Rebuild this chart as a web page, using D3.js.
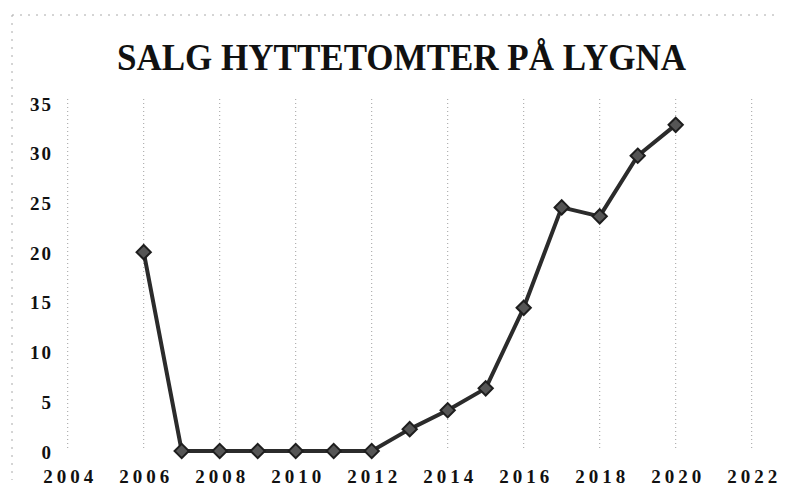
<!DOCTYPE html>
<meta charset="utf-8">
<script src="https://d3js.org/d3.v7.min.js"></script>
<style>
body { margin: 0; background: #fff; }
.title { font: bold 37px "Liberation Serif", serif; fill: #111; }
.axis text { font: bold 19px "Liberation Serif", serif; fill: #111; }
.axis.x text { letter-spacing: 4px; }
.axis.y text { letter-spacing: 2px; }
.axis path, .axis line { stroke: none; }
.grid line { stroke: #888; stroke-width: 1; stroke-dasharray: 1 3; stroke-opacity: .8; }
.line { fill: none; stroke: #2b2b2b; stroke-width: 4; stroke-linejoin: round; }
.marker { fill: #555; stroke: #1e1e1e; stroke-width: 2; }
.frame { stroke: #aaa; stroke-dasharray: 2 6; stroke-width: 1; }
</style>
<body>
<script>

var years = [2006, 2007, 2008, 2009, 2010, 2011, 2012, 2013, 2014, 2015, 2016, 2017, 2018, 2019, 2020]
var sales = [20, 0, 0, 0, 0, 0, 0, 2.2, 4.1, 6.3, 14.4, 24.5, 23.6, 29.7, 32.8]
var xTicks = [2004, 2006, 2008, 2010, 2012, 2014, 2016, 2018, 2020, 2022]
var yTicks = [0, 5, 10, 15, 20, 25, 30, 35]
var titleText = "SALG HYTTETOMTER PÅ LYGNA"

var width = 787, height = 495

var svg = d3.select("body").append("svg")
  .attr("width", width)
  .attr("height", height)

// faint scan border
svg.append("line").attr("class", "frame")
  .attr("x1", 12).attr("x2", 780).attr("y1", 15).attr("y2", 15)
svg.append("line").attr("class", "frame")
  .attr("x1", 12).attr("x2", 12).attr("y1", 15).attr("y2", 480)

var xScale = d3.scaleLinear()
  .domain([2004, 2022])
  .range([67.7, 751.7])

var yScale = d3.scaleLinear()
  .domain([0, 35])
  .range([451, 103])

svg.append("text")
  .attr("class", "title")
  .attr("x", 117)
  .attr("y", 70)
  .attr("textLength", 569)
  .attr("lengthAdjust", "spacingAndGlyphs")
  .text(titleText)

// vertical dotted gridlines
svg.append("g")
  .attr("class", "grid")
  .selectAll("line")
  .data(xTicks)
  .enter().append("line")
  .attr("x1", function(d) { return xScale(d) })
  .attr("x2", function(d) { return xScale(d) })
  .attr("y1", yScale(35) - 4)
  .attr("y2", yScale(0))

var xAxis = d3.axisBottom(xScale)
  .tickValues(xTicks)
  .tickFormat(d3.format("d"))
  .tickSize(0)
  .tickPadding(0)

svg.append("g")
  .attr("class", "x axis")
  .attr("transform", "translate(2,469)")
  .call(xAxis)

var yAxis = d3.axisLeft(yScale)
  .tickValues(yTicks)
  .tickSize(0)
  .tickPadding(0)

svg.append("g")
  .attr("class", "y axis")
  .attr("transform", "translate(53,1)")
  .call(yAxis)

var data = years.map(function(y, i) { return {year: y, value: sales[i]} })

var lineGenerator = d3.line()
  .x(function(d) { return xScale(d.year) })
  .y(function(d) { return yScale(d.value) })

svg.append("path")
  .attr("class", "line")
  .attr("d", lineGenerator(data))

svg.selectAll(".marker")
  .data(data)
  .enter().append("path")
  .attr("class", "marker")
  .attr("d", d3.symbol().type(d3.symbolDiamond2).size(130))
  .attr("transform", function(d) { return "translate(" + xScale(d.year) + "," + yScale(d.value) + ")" })

</script>
</body>
